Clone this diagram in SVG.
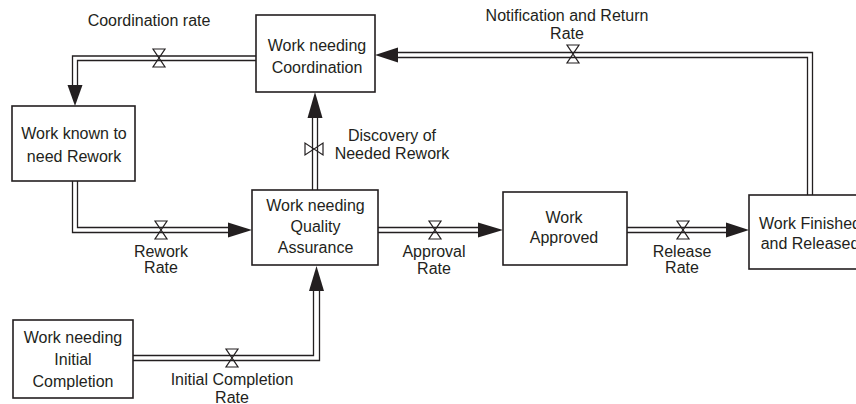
<svg xmlns="http://www.w3.org/2000/svg" width="856" height="404" viewBox="0 0 856 404">
<defs>
<style>
.box{fill:#fff;stroke:#231f20;stroke-width:1.6}
.t{font-family:"Liberation Sans",Arial,sans-serif;font-size:16px;fill:#231f20;text-anchor:middle}
.p{fill:none;stroke:#231f20;stroke-width:1.3}
.ah{fill:#231f20;stroke:none}
.v{fill:none;stroke:#231f20;stroke-width:1.2}
</style>
<path id="valve" d="M-6,-9 H6 L-6,9 H6 Z"/>
</defs>
<rect width="856" height="404" fill="#fff"/>
<g id="connectors">
<!-- Coordination rate -->
<polyline class="p" points="256,56 72.5,56 72.5,86"/>
<polyline class="p" points="256,60.5 77.5,60.5 77.5,86"/>
<polygon class="ah" points="75,106 67.5,85 82.5,85"/>
<use href="#valve" class="v" x="159" y="58"/>
<!-- Rework rate -->
<polyline class="p" points="72.5,181 72.5,232.5 229,232.5"/>
<polyline class="p" points="77.5,181 77.5,227.5 229,227.5"/>
<polygon class="ah" points="252,230 228,222.5 228,237.5"/>
<use href="#valve" class="v" x="161" y="230"/>
<!-- Discovery -->
<line class="p" x1="312.5" y1="190" x2="312.5" y2="117"/>
<line class="p" x1="317.5" y1="190" x2="317.5" y2="117"/>
<polygon class="ah" points="315,92 307.5,118 322.5,118"/>
<use href="#valve" class="v" transform="translate(314,149) rotate(90)"/>
<!-- Approval -->
<line class="p" x1="378" y1="227.5" x2="480" y2="227.5"/>
<line class="p" x1="378" y1="232.5" x2="480" y2="232.5"/>
<polygon class="ah" points="503,230 478,222.5 478,237.5"/>
<use href="#valve" class="v" x="435" y="230"/>
<!-- Release -->
<line class="p" x1="627" y1="227.5" x2="728" y2="227.5"/>
<line class="p" x1="627" y1="232.5" x2="728" y2="232.5"/>
<polygon class="ah" points="749,230 726,222.5 726,237.5"/>
<use href="#valve" class="v" x="683" y="230"/>
<!-- Notification and Return -->
<polyline class="p" points="397,52.5 812.5,52.5 812.5,195"/>
<polyline class="p" points="397,57.5 807.5,57.5 807.5,195"/>
<polygon class="ah" points="375,55 398,47.5 398,62.5"/>
<use href="#valve" class="v" x="573" y="54"/>
<!-- Initial completion -->
<polyline class="p" points="133,355.5 313.5,355.5 313.5,290"/>
<polyline class="p" points="133,360.5 319.5,360.5 319.5,290"/>
<polygon class="ah" points="316.5,266 309,291 324,291"/>
<use href="#valve" class="v" x="232" y="358"/>
</g>
<g id="labels">
<text class="t" x="149" y="25.5">Coordination rate</text>
<text class="t" x="567" y="20.5">Notification and Return</text>
<text class="t" x="567" y="38.5">Rate</text>
<text class="t" x="392" y="140.5">Discovery of</text>
<text class="t" x="392" y="158.5">Needed Rework</text>
<text class="t" x="161" y="256.5">Rework</text>
<text class="t" x="161" y="273">Rate</text>
<text class="t" x="434" y="257">Approval</text>
<text class="t" x="434" y="274">Rate</text>
<text class="t" x="682" y="256.5">Release</text>
<text class="t" x="682" y="273">Rate</text>
<text class="t" x="232" y="384.5">Initial Completion</text>
<text class="t" x="232" y="402.5">Rate</text>
</g>
<g id="work-needing-coordination">
<rect class="box" x="256" y="15" width="119" height="77"/>
<text class="t" x="317" y="50.5">Work needing</text>
<text class="t" x="317" y="72.5">Coordination</text>
</g>
<g id="work-known-to-need-rework">
<rect class="box" x="12" y="106" width="123" height="75"/>
<text class="t" x="74" y="138.5">Work known to</text>
<text class="t" x="74" y="161.5">need Rework</text>
</g>
<g id="work-needing-quality-assurance">
<rect class="box" x="252" y="190" width="126" height="75"/>
<text class="t" x="315.5" y="210.5">Work needing</text>
<text class="t" x="315.5" y="232">Quality</text>
<text class="t" x="315.5" y="252.5">Assurance</text>
</g>
<g id="work-approved">
<rect class="box" x="503" y="192" width="124" height="73"/>
<text class="t" x="564" y="222.5">Work</text>
<text class="t" x="564" y="242.5">Approved</text>
</g>
<g id="work-finished-and-released">
<rect class="box" x="749" y="195" width="122" height="74"/>
<text class="t" x="810" y="228.5">Work Finished</text>
<text class="t" x="810" y="248.5">and Released</text>
</g>
<g id="work-needing-initial-completion">
<rect class="box" x="13" y="320" width="120" height="78"/>
<text class="t" x="73" y="342.5">Work needing</text>
<text class="t" x="73" y="364.5">Initial</text>
<text class="t" x="73" y="386.5">Completion</text>
</g>
</svg>
